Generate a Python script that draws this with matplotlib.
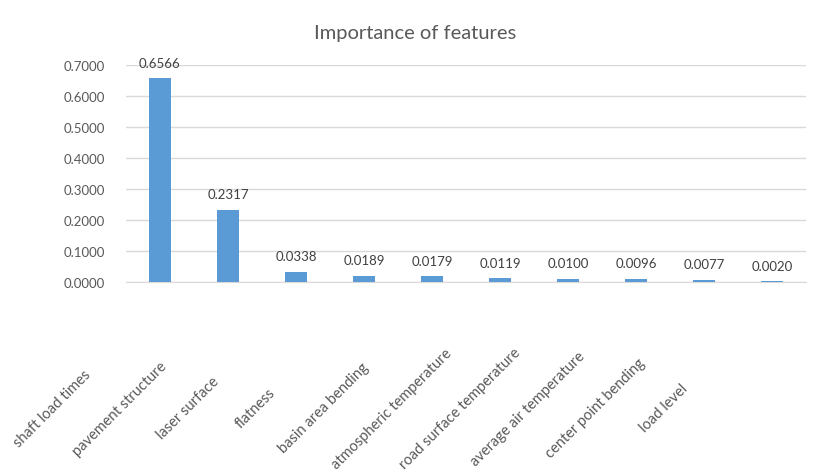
import numpy as np
import matplotlib.pyplot as plt

plt.rcParams['font.family'] = ['Lato', 'DejaVu Sans']

features = ['shaft load times', 'pavement structure', 'laser surface', 'flatness',
            'basin area bending', 'atmospheric temperature', 'road surface temperature',
            'average air temperature', 'center point bending', 'load level']
importance = [0.6566, 0.2317, 0.0338, 0.0189, 0.0179, 0.0119, 0.0100, 0.0096, 0.0077, 0.0020]
yticks = [0.0, 0.1, 0.2, 0.3, 0.4, 0.5, 0.6, 0.7]

fig = plt.figure(figsize=(8.36, 4.77), dpi=100)
ax = fig.add_axes([0.1507, 0.4067, 0.8134, 0.4549])

x = np.arange(len(features))
bars = ax.bar(x, importance, width=0.31, color='#5b9bd5', zorder=3)

for xi, v in zip(x, importance):
    ax.annotate(f'{v:.4f}', (xi, v), xytext=(0, 7), textcoords='offset points',
                ha='center', va='bottom', fontsize=9.5, color='#404040')

# category labels sit down-left of their bars, like in the original
for xi, name in zip(x, features):
    ax.text(xi - 1.59, -0.58, name, transform=ax.get_xaxis_transform(),
            rotation=45, ha='center', va='center', rotation_mode='anchor',
            fontsize=10.5, color='#595959')

ax.set_xlim(-0.5, len(features) - 0.5)
ax.set_ylim(0, 0.7)
ax.set_yticks(yticks)
ax.set_yticklabels([f'{t:.4f}' for t in yticks], fontsize=9.5, color='#595959')
ax.set_xticks([])
ax.tick_params(axis='y', length=0, pad=15)
ax.grid(axis='y', color='#d9d9d9', linewidth=1, zorder=0)
for s in ['top', 'right', 'left']:
    ax.spines[s].set_visible(False)
ax.spines['bottom'].set_color('#d9d9d9')

fig.text(0.497, 0.93, 'Importance of features', ha='center', va='center',
         fontsize=14.5, color='#595959')

fig.savefig('out.png', dpi=100)
